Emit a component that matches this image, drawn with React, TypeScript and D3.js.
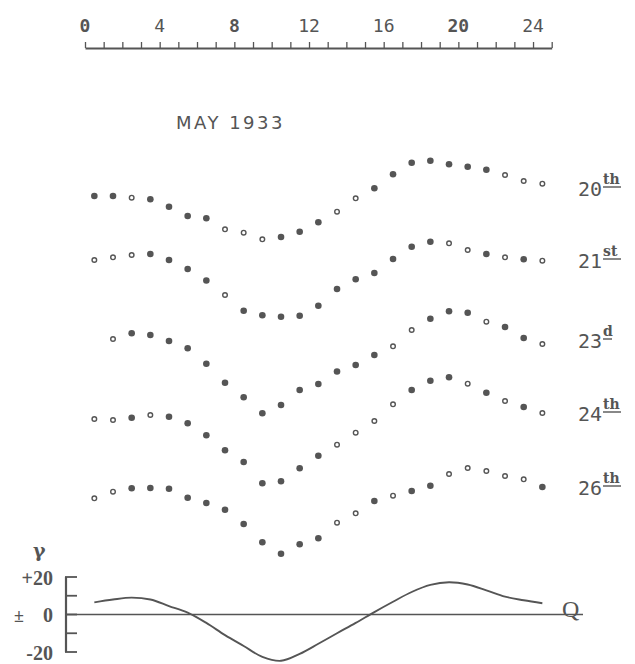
import React, { useEffect, useRef } from "react";
import * as d3 from "d3";

// hour-axis labels
const hourTicks = d3.range(0, 26);
const hourLabels = [0, 4, 8, 12, 16, 20, 24];
const boldLabels = [0, 8, 20];

// day rows: label, superscript, deflection per hourly mean (null = missing)
const dayLabels = ["20", "21", "23", "24", "26"];
const daySups = ["th", "st", "d", "th", "th"];

const may20 = [-8, -8, -9.7, -11.3, -18.7, -28, -30.3, -41.3, -44.7, -51.3, -49, -43.7, -34.3, -23.7, -10.3, -0.3, 13.7, 25.3, 27.3, 23.7, 21.3, 18.3, 13, 7, 4.3];
const may21 = [0, 2.7, 5, 6, 0, -9, -20.5, -35, -50.7, -55.3, -56.7, -55.7, -45.7, -29, -19.3, -13, 1, 13.3, 18.3, 16.7, 10, 6, 2.7, 0.7, -0.7];
const may23 = [null, 1, 6.7, 5, -1, -8.3, -23.8, -42.7, -57.3, -73.3, -65, -50, -44, -31.5, -25, -15, -6.3, 10, 21.3, 28.7, 27.3, 18.3, 13, 2, -4];
const may24 = [-6, -7, -4.7, -2, -3.7, -10.3, -22.3, -37.3, -49, -70.3, -68.3, -55.3, -42.7, -31.7, -19.7, -8, 8.7, 23, 32.3, 35.7, 29.3, 20.3, 12, 6, 0];
const may26 = [-11.3, -4.7, -1.3, -1, -1.7, -10.7, -16, -22.7, -37, -55.3, -66.7, -57.3, -51.3, -35.7, -26.3, -14, -8.7, -4, 1.3, 13, 19, 16, 11, 7.7, 0];

// F = filled dot, O = open dot
const marks20 = "FFOFFFFOOOFFFOOFFFFFFFOOO";
const marks21 = "OOOFFFFOFFFFFFFFFFFOOFOFO";
const marks23 = "-OFFFFFFFFFFFFFFOOFFFOFFO";
const marks24 = "OOFOFFFFFFFFFOOOOFFFOFOFO";
const marks26 = "OOFFFFFFFFFFFOOFOFFOOOOOF";

const dayValues = [may20, may21, may23, may24, may26];
const dayMarks = [marks20, marks21, marks23, marks24, marks26];

// lower panel: gamma curve at hourly means
const gammaValues = [6.5, 8, 9, 8, 4.5, 1, -4.5, -11, -16.8, -22.6, -24.7, -21, -15.6, -10, -4.5, 1.3, 6.8, 12, 15.8, 17.2, 16, 12.9, 9.5, 7.6, 6];
const gammaTicks = [20, 10, 0, -10, -20];
const gammaLabels = [
  { v: 20, t: "+20" },
  { v: -20, t: "-20" },
];

const INK = "#555";
const W = 635;
const H = 664;

export default function App() {
  const axisRef = useRef<SVGGElement>(null);

  const x = d3.scaleLinear().domain([0, 25]).range([85, 551.7]);
  const rowRefs = [188, 260, 340, 413, 487];
  const dy = d3.scaleLinear().domain([-50, 50]).range([50, -50]);
  const g = d3.scaleLinear().domain([-20, 20]).range([652, 577]);

  useEffect(() => {
    if (!axisRef.current) return;
    const sel = d3.select(axisRef.current);
    sel.selectAll("*").remove();
    sel.call(
      d3.axisTop(x).tickValues(hourTicks).tickSize(6).tickSizeOuter(0).tickFormat(() => "")
    );
    sel.select(".domain").attr("stroke", INK).attr("stroke-width", 2);
    sel.selectAll(".tick line").attr("stroke", INK).attr("stroke-width", 1.3);
  }, []);

  const gammaLine = d3
    .line<number>()
    .x((_, i) => x(i + 0.5))
    .y((d) => g(d))
    .curve(d3.curveCatmullRom);

  return (
    <svg
      width={W}
      height={H}
      style={{ position: "absolute", left: 0, top: 0, background: "#fff" }}
    >
      {/* top hour axis */}
      <g ref={axisRef} transform="translate(0,48)" />
      {hourLabels.map((h) => (
        <text
          key={h}
          x={x(h)}
          y={32}
          textAnchor="middle"
          fontFamily="DejaVu Sans Mono"
          fontSize={18}
          fontWeight={boldLabels.includes(h) ? "bold" : "normal"}
          fill={INK}
        >
          {h}
        </text>
      ))}

      {/* title */}
      <text
        x={176}
        y={129}
        fontFamily="DejaVu Sans"
        fontSize={18}
        letterSpacing={2.5}
        fill={INK}
      >
        MAY 1933
      </text>

      {/* day rows */}
      {dayValues.map((vals, r) => (
        <g key={r}>
          {vals.map((v, i) => {
            if (v === null) return null;
            const cx = x(i + 0.5);
            const cy = rowRefs[r] + dy(v as number);
            const filled = dayMarks[r][i] === "F";
            return filled ? (
              <circle key={i} cx={cx} cy={cy} r={3.3} fill={INK} />
            ) : (
              <circle key={i} cx={cx} cy={cy} r={2.3} fill="#fff" stroke={INK} strokeWidth={1.4} />
            );
          })}
          <text
            x={578}
            y={rowRefs[r] + 8}
            fontFamily="DejaVu Sans Mono"
            fontSize={20}
            fill={INK}
          >
            {dayLabels[r]}
          </text>
          <text
            x={603}
            y={rowRefs[r] - 4}
            fontFamily="DejaVu Serif"
            fontSize={14}
            fontWeight="bold"
            fill={INK}
          >
            {daySups[r]}
          </text>
          <line
            x1={603}
            x2={603 + daySups[r].length * 9}
            y1={rowRefs[r] - 1}
            y2={rowRefs[r] - 1}
            stroke={INK}
            strokeWidth={1.4}
          />
        </g>
      ))}

      {/* lower gamma panel */}
      <text x={33} y={557} fontFamily="DejaVu Serif" fontWeight="bold" fontSize={19} fill={INK}>
        {"\u03b3"}
      </text>
      <line x1={66} x2={66} y1={g(20)} y2={g(-20)} stroke={INK} strokeWidth={2.2} />
      {gammaTicks.map((t) => (
        <line key={t} x1={65} x2={77} y1={g(t)} y2={g(t)} stroke={INK} strokeWidth={1.8} />
      ))}
      <line x1={66} x2={583} y1={g(0)} y2={g(0)} stroke={INK} strokeWidth={1.5} />
      {gammaLabels.map((l) => (
        <text
          key={l.v}
          x={53}
          y={g(l.v) + 8}
          textAnchor="end"
          fontFamily="Liberation Serif"
          fontWeight="bold"
          fontSize={20}
          fill={INK}
        >
          {l.t}
        </text>
      ))}
      <text x={14} y={g(0) + 7} fontFamily="Liberation Serif" fontWeight="bold" fontSize={18} fill={INK}>
        {"\u00b1"}
      </text>
      <text x={53} y={g(0) + 7} textAnchor="end" fontFamily="Liberation Serif" fontWeight="bold" fontSize={20} fill={INK}>
        0
      </text>
      <path d={gammaLine(gammaValues) || ""} fill="none" stroke={INK} strokeWidth={1.9} />
      <text x={562} y={g(0) + 2} fontFamily="Liberation Serif" fontSize={24} fill={INK}>
        Q
      </text>
    </svg>
  );
}
